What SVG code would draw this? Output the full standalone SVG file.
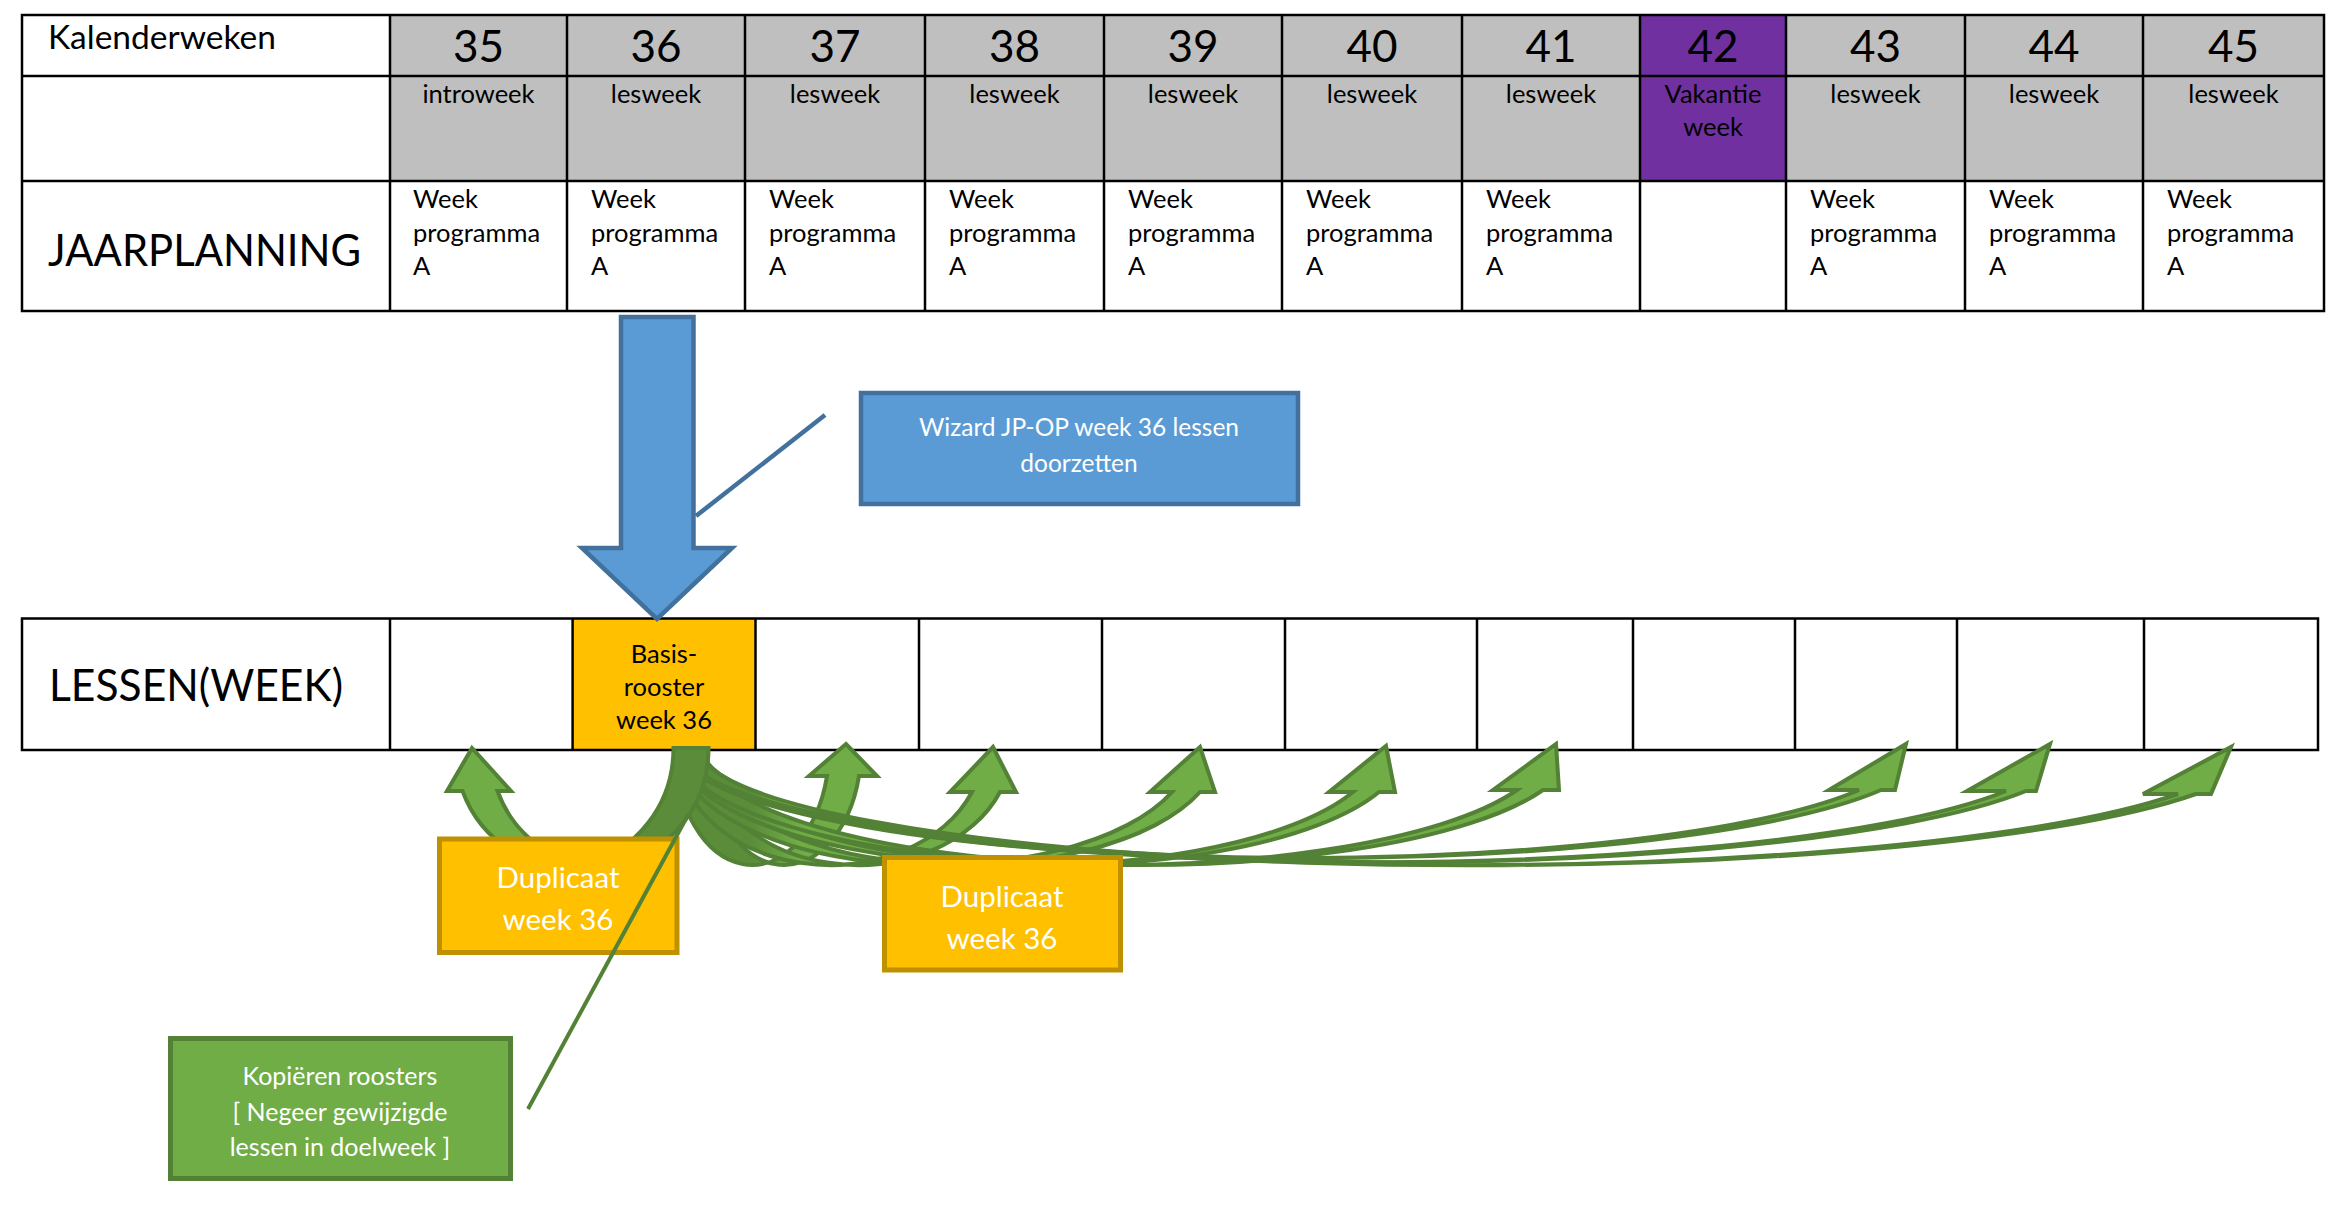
<svg xmlns="http://www.w3.org/2000/svg" width="2332" height="1207" viewBox="0 0 2332 1207">
<style>
.t{font-family:Lato,"Liberation Sans",sans-serif;fill:#000}
.wk{font-size:44px;text-anchor:middle}
.lbl{font-size:25.5px;text-anchor:middle}
.prog{font-size:25.5px}
.big{font-size:44px}
.cal{font-size:33.5px}
.line{stroke:#000;stroke-width:2.5;fill:none}
.grey{fill:#BFBFBF}
.arrow{stroke:#538135;stroke-width:4;stroke-linejoin:miter}
.dupbox{fill:#FFC000;stroke:#BF9000;stroke-width:5}
.wt{fill:#fff;text-anchor:middle}
</style>
<defs>
  <linearGradient id="gR" gradientUnits="userSpaceOnUse" x1="690" y1="0" x2="800" y2="0">
    <stop offset="0" stop-color="#5A8C3A"/>
    <stop offset="0.55" stop-color="#5A8C3A"/>
    <stop offset="1" stop-color="#70AD47"/>
  </linearGradient>
  <linearGradient id="gL" gradientUnits="userSpaceOnUse" x1="560" y1="0" x2="615" y2="0">
    <stop offset="0" stop-color="#70AD47"/>
    <stop offset="1" stop-color="#5A8C3A"/>
  </linearGradient>
</defs>
<rect x="0" y="0" width="2332" height="1207" fill="#fff"/>

<g id="jaarplanning-table">
  <rect class="grey" x="390" y="15" width="1934" height="166"/>
  <rect x="1640" y="15" width="146" height="166" fill="#7030A0"/>
  <g id="grid-lines">
    <rect class="line" x="22" y="15" width="2302" height="296" stroke-width="3"/>
    <path class="line" d="M22 76H2324M22 181H2324M390 15V311M567 15V311M745 15V311M925 15V311M1104 15V311M1282 15V311M1462 15V311M1640 15V311M1786 15V311M1965 15V311M2143 15V311"/>
  </g>
  <text id="kalenderweken" class="t cal" x="48" y="49">Kalenderweken</text>
  <text id="jaarplanning" class="t big" x="48" y="266" textLength="313" lengthAdjust="spacingAndGlyphs">JAARPLANNING</text>
  <g id="week35"><text class="t wk" x="478.5" y="62">35</text><text class="t lbl" x="478.5" y="103">introweek</text><text class="t prog" x="413" y="208">Week</text><text class="t prog" x="413" y="242">programma</text><text class="t prog" x="413" y="275">A</text></g>
  <g id="week36"><text class="t wk" x="656" y="62">36</text><text class="t lbl" x="656" y="103">lesweek</text><text class="t prog" x="591" y="208">Week</text><text class="t prog" x="591" y="242">programma</text><text class="t prog" x="591" y="275">A</text></g>
  <g id="week37"><text class="t wk" x="835" y="62">37</text><text class="t lbl" x="835" y="103">lesweek</text><text class="t prog" x="769" y="208">Week</text><text class="t prog" x="769" y="242">programma</text><text class="t prog" x="769" y="275">A</text></g>
  <g id="week38"><text class="t wk" x="1014.5" y="62">38</text><text class="t lbl" x="1014.5" y="103">lesweek</text><text class="t prog" x="949" y="208">Week</text><text class="t prog" x="949" y="242">programma</text><text class="t prog" x="949" y="275">A</text></g>
  <g id="week39"><text class="t wk" x="1193" y="62">39</text><text class="t lbl" x="1193" y="103">lesweek</text><text class="t prog" x="1128" y="208">Week</text><text class="t prog" x="1128" y="242">programma</text><text class="t prog" x="1128" y="275">A</text></g>
  <g id="week40"><text class="t wk" x="1372" y="62">40</text><text class="t lbl" x="1372" y="103">lesweek</text><text class="t prog" x="1306" y="208">Week</text><text class="t prog" x="1306" y="242">programma</text><text class="t prog" x="1306" y="275">A</text></g>
  <g id="week41"><text class="t wk" x="1551" y="62">41</text><text class="t lbl" x="1551" y="103">lesweek</text><text class="t prog" x="1486" y="208">Week</text><text class="t prog" x="1486" y="242">programma</text><text class="t prog" x="1486" y="275">A</text></g>
  <g id="week42"><text class="t wk" x="1713" y="62">42</text><text class="t lbl" x="1713" y="103">Vakantie</text><text class="t lbl" x="1713" y="136">week</text></g>
  <g id="week43"><text class="t wk" x="1875.5" y="62">43</text><text class="t lbl" x="1875.5" y="103">lesweek</text><text class="t prog" x="1810" y="208">Week</text><text class="t prog" x="1810" y="242">programma</text><text class="t prog" x="1810" y="275">A</text></g>
  <g id="week44"><text class="t wk" x="2054" y="62">44</text><text class="t lbl" x="2054" y="103">lesweek</text><text class="t prog" x="1989" y="208">Week</text><text class="t prog" x="1989" y="242">programma</text><text class="t prog" x="1989" y="275">A</text></g>
  <g id="week45"><text class="t wk" x="2233.5" y="62">45</text><text class="t lbl" x="2233.5" y="103">lesweek</text><text class="t prog" x="2167" y="208">Week</text><text class="t prog" x="2167" y="242">programma</text><text class="t prog" x="2167" y="275">A</text></g>
</g>

<g id="lessen-row">
  <rect x="572.6" y="618.5" width="182.9" height="131.5" fill="#FFC000"/>
  <rect class="line" x="22" y="618.5" width="2296" height="131.5" stroke-width="3"/>
  <path class="line" d="M390 618.5V750M572.6 618.5V750M755.5 618.5V750M919 618.5V750M1102 618.5V750M1285 618.5V750M1477 618.5V750M1633 618.5V750M1795 618.5V750M1957 618.5V750M2144 618.5V750"/>
  <text id="lessen-label" class="t big" x="49" y="701" textLength="294" lengthAdjust="spacingAndGlyphs">LESSEN(WEEK)</text>
  <g id="basisrooster">
    <text class="t lbl" x="664" y="663">Basis-</text>
    <text class="t lbl" x="664" y="696">rooster</text>
    <text class="t lbl" x="664" y="729">week 36</text>
  </g>
</g>

<g id="connectors">
  <path id="wizard-arrow" d="M621 317H693.5V548H732L657 619L582 548H621Z" fill="#5B9BD5" stroke="#41719C" stroke-width="4.5"/>
  <g id="copy-arrows" class="arrow">
    <path id="to37" fill="url(#gR)" d="M675 748A77.12 117 0 0 0 827 776L809 776L846 744L877 776L859 776A77.12 117 0 0 1 707 748Z"/>
    <path id="to38" fill="url(#gR)" d="M677 748A153.12 117 0 0 0 972 792L950 792L993 747L1016 792L1000 792A153.12 117 0 0 1 705 748Z"/>
    <path id="to39" fill="url(#gR)" d="M677 748A256.93 117 0 0 0 1172 792L1150 792L1200 747L1215 792L1200 792A256.93 117 0 0 1 705 748Z"/>
    <path id="to40" fill="url(#gR)" d="M678 748A350.36 117 0 0 0 1353 792L1329 792L1386 746L1395 792L1379 792A350.36 117 0 0 1 704 748Z"/>
    <path id="to41" fill="url(#gR)" d="M678 748A433.97 117 0 0 0 1517 790L1493 790L1556 744L1559 790L1543 790A433.97 117 0 0 1 704 748Z"/>
    <path id="to43" fill="url(#gR)" d="M680 748A612.72 110 0 0 0 1859 790L1829 790L1906 744L1895 790L1881 790A612.72 110 0 0 1 702 748Z"/>
    <path id="to44" fill="url(#gR)" d="M681 748A687.92 114 0 0 0 2006 791L1967 791L2050 744L2036 791L2026 791A687.92 114 0 0 1 701 748Z"/>
    <path id="to45" fill="url(#gR)" d="M682 748A779.37 117 0 0 0 2178 794L2143 794L2231 747L2211 794L2196 794A779.37 117 0 0 1 700 748Z"/>
    <path id="to35" fill="url(#gL)" d="M708.5 748A109.33 117 0 0 1 497.5 791L511 791L472 748L447 791L462.5 791A109.33 117 0 0 0 673.5 748Z"/>
  </g>
</g>

<g id="duplicaat-a">
  <rect class="dupbox" x="439.5" y="839" width="237.5" height="113.5"/>
  <text class="t wt" x="558" y="888" font-size="29.5">Duplicaat</text>
  <text class="t wt" x="558" y="930" font-size="29.5">week 36</text>
</g>
<g id="duplicaat-b">
  <rect class="dupbox" x="884.5" y="857.5" width="236" height="112.5"/>
  <text class="t wt" x="1002" y="907" font-size="29.5">Duplicaat</text>
  <text class="t wt" x="1002" y="949" font-size="29.5">week 36</text>
</g>

<g id="wizard-callout">
  <line x1="825" y1="415" x2="696" y2="516" stroke="#41719C" stroke-width="4.5"/>
  <rect x="861" y="393" width="437" height="111" fill="#5B9BD5" stroke="#41719C" stroke-width="4.5"/>
  <text class="t wt" x="1079" y="436" font-size="24.5">Wizard JP-OP week 36 lessen</text>
  <text class="t wt" x="1079" y="472" font-size="24.5">doorzetten</text>
</g>

<g id="kopieren-callout">
  <line x1="528" y1="1109" x2="688" y2="815" stroke="#538135" stroke-width="4"/>
  <rect x="170.5" y="1038.5" width="340" height="140" fill="#70AD47" stroke="#538135" stroke-width="5"/>
  <text class="t wt" x="340" y="1085" font-size="25">Kopiëren roosters</text>
  <text class="t wt" x="340" y="1121" font-size="25">[ Negeer gewijzigde</text>
  <text class="t wt" x="340" y="1156" font-size="25">lessen in doelweek ]</text>
</g>
</svg>
